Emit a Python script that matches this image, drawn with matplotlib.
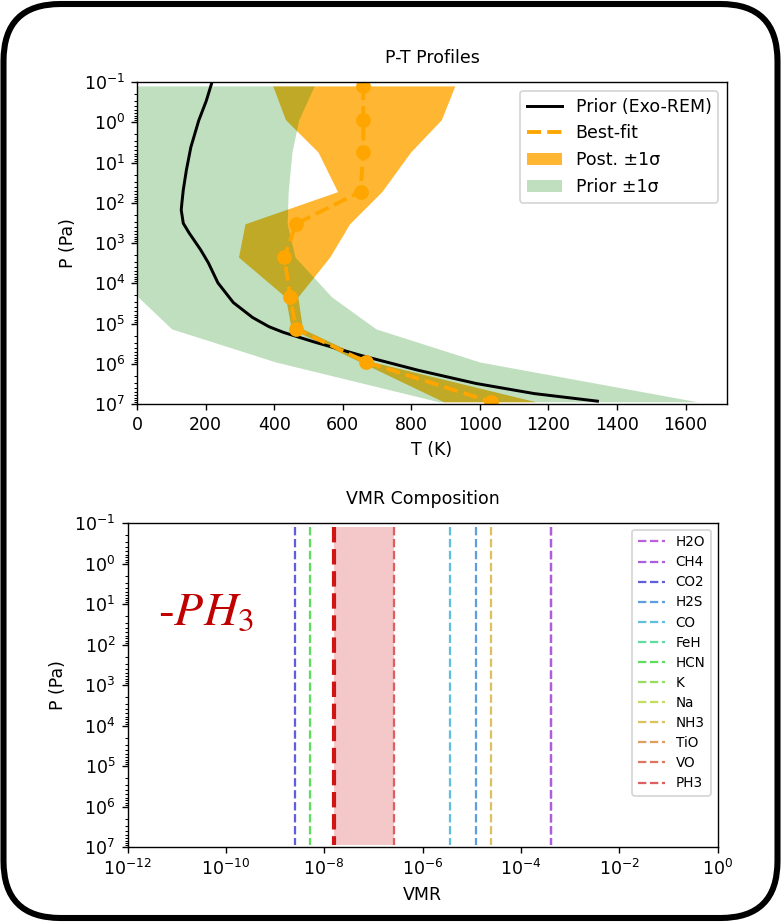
import colorsys
import numpy as np
import matplotlib
matplotlib.use("Agg")
import matplotlib.pyplot as plt
from matplotlib.patches import FancyBboxPatch
from matplotlib.transforms import IdentityTransform
from matplotlib.ticker import LogLocator, NullLocator

# ---------------- P-T profile data ----------------
P_nodes = [0.125, 0.86, 5.5, 53, 334, 2240, 21900, 1.36e5, 9.06e5, 8.8e6]
T_best = [660, 660, 660, 652, 464, 430, 447, 464, 668, 1032]
T_post_lo = [396, 433, 528, 585, 315, 296, 433, 450, 652, 894]
T_post_hi = [927, 888, 798, 714, 620, 562, 469, 483, 688, 1163]
T_prior_lo = [0, 0, 0, 0, 0, 0, 3, 101, 405, 880]
T_prior_hi = [517, 472, 452, 441, 438, 461, 568, 697, 1000, 1635]

P_exorem = [0.113, 0.295, 0.91, 4.2, 15.5, 48, 100, 151, 324, 562, 1450, 3090,
            9770, 30200, 70800, 1.2e5, 1.66e5, 2.88e5, 6.17e5, 1.45e6, 3.09e6,
            5.5e6, 8.5e6]
T_exorem = [217, 202, 180, 157, 144, 135, 131, 129, 135, 152, 185, 208,
            236, 281, 337, 385, 427, 517, 652, 820, 989, 1158, 1343]

# ---------------- VMR data ----------------
species = ['H2O', 'CH4', 'CO2', 'H2S', 'CO', 'FeH', 'HCN', 'K', 'Na',
           'NH3', 'TiO', 'VO', 'PH3']
vmr = [4.1e-4, 4.1e-4, 2.5e-9, 1.2e-5, 3.6e-6, 1e-14, 5.2e-9, 1e-14, 1e-14,
       2.5e-5, 1e-14, 1e-14, 2.6e-7]
ph3_range = [1.6e-8, 2.6e-7]
species_hues = [0.79, 0.767, 0.667, 0.583, 0.54, 0.42, 0.333, 0.26, 0.2,
                0.13, 0.083, 0.03, 0.0]

DPI = 125
fig = plt.figure(figsize=(781 / DPI, 922 / DPI), dpi=DPI)

# ---------------- top panel ----------------
ax1 = fig.add_axes([137 / 781, 1 - 404 / 922, 590 / 781, 322 / 922])
ax1.fill_betweenx(P_nodes, T_post_lo, T_post_hi, color='orange', alpha=0.8,
                  lw=0, label='Post. ±1σ')
ax1.fill_betweenx(P_nodes, T_prior_lo, T_prior_hi, color='green', alpha=0.25,
                  lw=0, label='Prior ±1σ')
ax1.plot(T_exorem, P_exorem, color='black', lw=1.7, label='Prior (Exo-REM)')
ax1.plot(T_best, P_nodes, color='orange', ls='--', lw=2.2, label='Best-fit')
ax1.plot(T_best, P_nodes, color='orange', ls='none', marker='o', ms=7.5)
ax1.set_yscale('log')
ax1.set_ylim(1e7, 1e-1)
ax1.set_xlim(0, 1721)
ax1.yaxis.set_major_locator(LogLocator(base=10, numticks=20))
ax1.set_xlabel('T (K)')
ax1.set_ylabel('P (Pa)')
ax1.set_title('P-T Profiles', fontsize=10, pad=11)
h, l = ax1.get_legend_handles_labels()
order = [2, 3, 0, 1]
ax1.legend([h[i] for i in order], [l[i] for i in order], loc='upper right',
           fontsize=10)

# ---------------- bottom panel ----------------
ax2 = fig.add_axes([127.5 / 781, 1 - 847 / 922, 590 / 781, 324 / 922])
pmin, pmax = P_nodes[0], P_nodes[-1]
ax2.fill_betweenx([pmin, pmax], ph3_range[0], ph3_range[1], color='tab:red',
                  alpha=0.25, lw=0)
for name, v, hue in zip(species, vmr, species_hues):
    c = colorsys.hls_to_rgb(hue, 0.62, 0.65)
    ax2.plot([v, v], [pmin, pmax], ls='--', lw=1.3, color=c, label=name)
ax2.plot([ph3_range[0]] * 2, [pmin, pmax], ls='--', lw=2.4, color='#d11414')
ax2.set_xscale('log')
ax2.set_yscale('log')
ax2.set_xlim(1e-12, 1)
ax2.set_ylim(1e7, 1e-1)
ax2.xaxis.set_major_locator(LogLocator(base=10, subs=(1.0,), numticks=7))
ax2.xaxis.set_minor_locator(NullLocator())
ax2.yaxis.set_major_locator(LogLocator(base=10, numticks=20))
ax2.set_xlabel('VMR')
ax2.set_ylabel('P (Pa)')
ax2.set_title('VMR Composition', fontsize=10, pad=11)
ax2.legend(loc='upper right', fontsize=7.8, labelspacing=0.45)

fig.text(158 / 781, 1 - 625 / 922, '-$PH_3$', color='#C00000', fontsize=27.5,
         family='STIXGeneral', math_fontfamily='stix', ha='left', va='baseline')

# ---------------- rounded frame ----------------
frame = FancyBboxPatch((3.5, 4), 774, 914,
                       boxstyle='round,pad=0,rounding_size=57',
                       transform=IdentityTransform(), facecolor='none',
                       edgecolor='black', lw=3.5)
fig.add_artist(frame)

fig.savefig('out.png', dpi=DPI)
